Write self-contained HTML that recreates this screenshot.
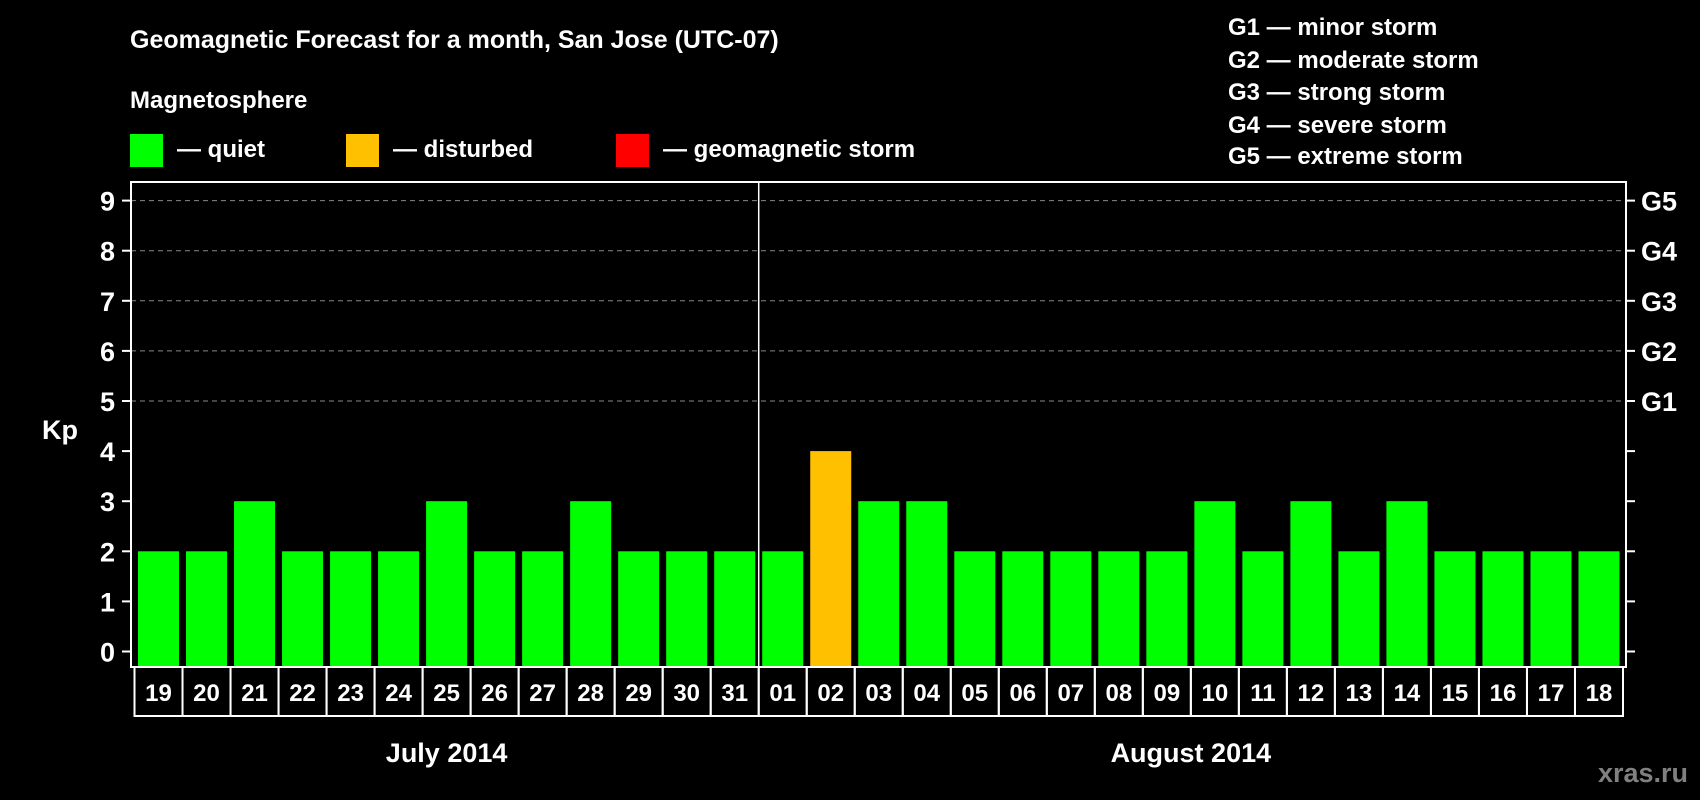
<!DOCTYPE html>
<html><head><meta charset="utf-8"><style>
html,body{margin:0;padding:0;background:#000;}
svg{display:block;font-family:"Liberation Sans",Arial,sans-serif;font-weight:bold;}
</style></head><body>
<svg id="chart" width="1700" height="800" viewBox="0 0 1700 800">
<rect x="0" y="0" width="1700" height="800" fill="#000"/>
<text x="130" y="48" font-size="25" fill="#fff">Geomagnetic Forecast for a month, San Jose (UTC-07)</text>
<text x="130" y="108" font-size="24" fill="#fff">Magnetosphere</text>
<g>
<rect x="130" y="134" width="33" height="33" fill="#00ff00"/>
<text x="177" y="157" font-size="24" fill="#fff">— quiet</text></g>
<g>
<rect x="346" y="134" width="33" height="33" fill="#ffc000"/>
<text x="393" y="157" font-size="24" fill="#fff">— disturbed</text></g>
<g>
<rect x="616" y="134" width="33" height="33" fill="#ff0000"/>
<text x="663" y="157" font-size="24" fill="#fff">— geomagnetic storm</text></g>
<g font-size="24" fill="#fff">
<text x="1228" y="35">G1 — minor storm</text>
<text x="1228" y="68">G2 — moderate storm</text>
<text x="1228" y="100">G3 — strong storm</text>
<text x="1228" y="133">G4 — severe storm</text>
<text x="1228" y="164">G5 — extreme storm</text>
</g>
<text x="60" y="439" font-size="27" fill="#fff" text-anchor="middle">Kp</text>
<text x="1688" y="782" font-size="27" fill="#808080" text-anchor="end">xras.ru</text>
<g id="plot"></g>
</svg>
<script>
const days = ["19","20","21","22","23","24","25","26","27","28","29","30","31","01","02","03","04","05","06","07","08","09","10","11","12","13","14","15","16","17","18"];
const kpValues = [2,2,3,2,2,2,3,2,2,3,2,2,2,2,4,3,3,2,2,2,2,2,3,2,3,2,3,2,2,2,2];
const yTicks = [0,1,2,3,4,5,6,7,8,9];
const gLabels = ["G1","G2","G3","G4","G5"];
const months = ["July 2014","August 2014"];
const monthDayCounts = [13,18];

const NS="http://www.w3.org/2000/svg";
const plot=document.getElementById('plot');
const fL=131,fR=1626,fT=182,fB=667;
const slot0=134.5,slotW=(1623-134.5)/days.length;
function y(v){return 651.5-v*50.1;}
function xs(i){return slot0+i*slotW;}
function mk(t,a,p){const e=document.createElementNS(NS,t);for(const k in a)e.setAttribute(k,a[k]);(p||plot).appendChild(e);return e;}

yTicks.forEach((v)=>{
  if(v>=5){const g=mk('line',{x1:fL,x2:fR,y1:y(v),y2:y(v),stroke:'#888','stroke-width':1,'stroke-dasharray':'5,4'});
  
  }
  const t1=mk('line',{x1:fL-9,x2:fL,y1:y(v),y2:y(v),stroke:'#fff','stroke-width':2});
  
  
  const t2=mk('line',{x1:fR,x2:fR+9,y1:y(v),y2:y(v),stroke:'#fff','stroke-width':2});
  
  
  const l=mk('text',{x:115,y:y(v)+10,'font-size':27,fill:'#fff','text-anchor':'end'});
  l.textContent=v;
  
  
});
gLabels.forEach((g,i)=>{
  const l=mk('text',{x:1641,y:y(5+i)+10,'font-size':27,fill:'#fff'});
  l.textContent=g;
  
  
});
kpValues.forEach((v,i)=>{
  const b=mk('rect',{x:xs(i)+3.5,y:y(v),width:slotW-7,height:fB-y(v),fill:v>=5?'#ff0000':(v>=4?'#ffc000':'#00ff00')});
  
  
  const c=mk('rect',{x:xs(i),y:fB,width:slotW,height:49,fill:'none',stroke:'#fff','stroke-width':2});
  
  
  const t=mk('text',{x:xs(i)+slotW/2,y:fB+34,'font-size':24,fill:'#fff','text-anchor':'middle'});
  t.textContent=days[i];
  
  
});
const fr=mk('rect',{x:fL,y:fT,width:fR-fL,height:fB-fT,fill:'none',stroke:'#fff','stroke-width':2});


let start=0;
months.forEach((m,k)=>{
  const n=monthDayCounts[k];
  const cx=(xs(start)+xs(start+n))/2;
  const t=mk('text',{x:cx,y:762,'font-size':27,fill:'#fff','text-anchor':'middle'});
  t.textContent=m;
  
  
  start+=n;
  if(k<months.length-1){const d=mk('line',{x1:xs(start),x2:xs(start),y1:fT,y2:fB,stroke:'#fff','stroke-width':1.5});
  
  }
});
</script>
</body></html>
